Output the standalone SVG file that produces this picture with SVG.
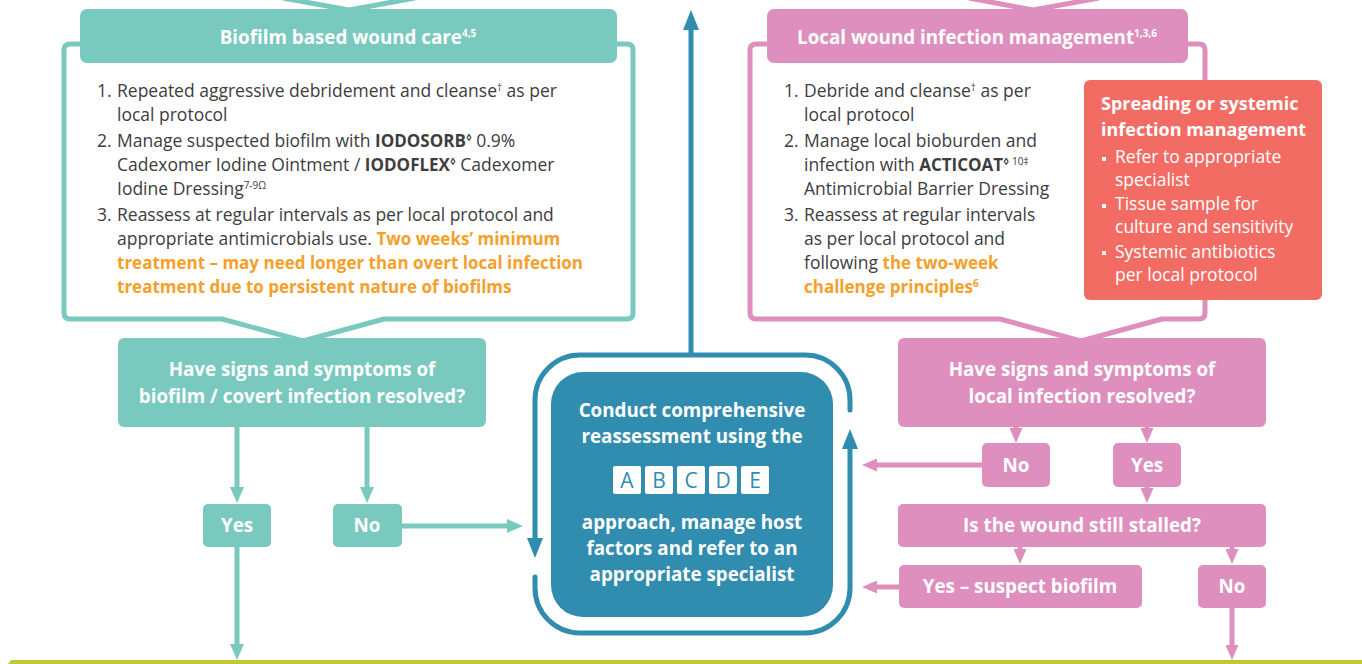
<svg xmlns="http://www.w3.org/2000/svg" width="1362" height="664" viewBox="0 0 1362 664">
<defs>
<style>
text{font-family:"Open Sans","Liberation Sans",sans-serif}
.body{font-size:17.5px;fill:#3d3d3d}
.b{font-weight:bold;font-size:17px}
.or{font-weight:bold;fill:#F5A02A;font-size:17px}
.sup{font-size:10px}
.hd{font-size:18.8px;font-weight:bold;fill:#fff;text-anchor:middle}
.rt{font-size:18px;font-weight:bold;fill:#fff}
.wt{font-size:17.5px;fill:#fff}
.lt{font-size:21px;fill:#318DB0;text-anchor:middle}
.teal{fill:#79C9BF}
.pink{fill:#DE8FBE}
.ol-teal{fill:none;stroke:#79C9BF;stroke-width:5;stroke-linejoin:round}
.ol-pink{fill:none;stroke:#DE8FBE;stroke-width:5;stroke-linejoin:round}
.c-teal{fill:none;stroke:#79C9BF;stroke-width:5}
.c-pink{fill:none;stroke:#DE8FBE;stroke-width:5}
.c-blue{fill:none;stroke:#318DB0;stroke-width:5;stroke-linecap:round}
</style>
<marker id="ah-teal" viewBox="0 0 16 14" refX="0" refY="7" markerWidth="16" markerHeight="14" markerUnits="userSpaceOnUse" orient="auto"><path d="M0,0 L16,7 L0,14 z" fill="#79C9BF"/></marker>
<marker id="ah-pink" viewBox="0 0 15 13" refX="0" refY="6.5" markerWidth="15" markerHeight="13" markerUnits="userSpaceOnUse" orient="auto"><path d="M0,0 L15,6.5 L0,13 z" fill="#DE8FBE"/></marker>
<marker id="ah-blue" viewBox="0 0 20 16" refX="0" refY="8" markerWidth="20" markerHeight="16" markerUnits="userSpaceOnUse" orient="auto"><path d="M0,0 L20,8 L0,16 z" fill="#318DB0"/></marker>
</defs>
<rect width="1362" height="664" fill="#fff"/>

<!-- incoming chevrons from above -->
<polyline class="ol-teal" points="283,-2 349,10 415,-2"/>
<polyline class="ol-pink" points="969,-2 1033,10 1099,-2"/>

<g id="connectors">
<path class="c-teal" d="M237 427 V487" marker-end="url(#ah-teal)"/>
<path class="c-teal" d="M367 427 V487" marker-end="url(#ah-teal)"/>
<path class="c-teal" d="M402 526 H507" marker-end="url(#ah-teal)"/>
<path class="c-teal" d="M237 547 V644" marker-end="url(#ah-teal)"/>
<path class="c-pink" d="M1016 426 V428" marker-end="url(#ah-pink)"/>
<path class="c-pink" d="M1147 426 V428" marker-end="url(#ah-pink)"/>
<path class="c-pink" d="M982 465 H877" marker-end="url(#ah-pink)"/>
<path class="c-pink" d="M1147 487 V488" marker-end="url(#ah-pink)"/>
<path class="c-pink" d="M1020 547 V549" marker-end="url(#ah-pink)"/>
<path class="c-pink" d="M1232 547 V549" marker-end="url(#ah-pink)"/>
<path class="c-pink" d="M899 587 H877" marker-end="url(#ah-pink)"/>
<path class="c-pink" d="M1232 608 V645" marker-end="url(#ah-pink)"/>
<path class="c-blue" style="stroke-linecap:butt" d="M691 356 V30" marker-end="url(#ah-blue)"/>
<path class="c-blue" d="M850 410 V400 A45 45 0 0 0 805 355 H580 A45 45 0 0 0 535 400 V538" marker-end="url(#ah-blue)"/>
<path class="c-blue" d="M535 577 V588 A45 45 0 0 0 580 633 H805 A45 45 0 0 0 850 588 V449" marker-end="url(#ah-blue)"/>
</g>

<g id="biofilm-care">
<path class="ol-teal" d="M70 44 H627 Q633 44 633 50 V313 Q633 319 627 319 H384 L303 341 L222 319 H70 Q64 319 64 313 V50 Q64 44 70 44 Z"/>
<rect class="teal" x="80" y="9" width="537" height="54" rx="7"/>
<text class="hd" x="348" y="44">Biofilm based wound care<tspan class="sup" dy="-7">4,5</tspan></text>
<g class="body">
<text x="97" y="97">1.</text>
<text x="117" y="97">Repeated aggressive debridement and cleanse<tspan class="sup" dy="-6">†</tspan><tspan dy="6"> as per</tspan></text>
<text x="117" y="121">local protocol</text>
<text x="97" y="147">2.</text>
<text x="117" y="147">Manage suspected biofilm with <tspan class="b">IODOSORB</tspan><tspan class="sup b" dy="-6">◊</tspan><tspan dy="6"> 0.9%</tspan></text>
<text x="117" y="171">Cadexomer Iodine Ointment / <tspan class="b">IODOFLEX</tspan><tspan class="sup b" dy="-6">◊</tspan><tspan dy="6"> Cadexomer</tspan></text>
<text x="117" y="195">Iodine Dressing<tspan class="sup" dy="-6">7-9Ω</tspan></text>
<text x="97" y="221">3.</text>
<text x="117" y="221">Reassess at regular intervals as per local protocol and</text>
<text x="117" y="245">appropriate antimicrobials use. <tspan class="or">Two weeks’ minimum</tspan></text>
<text x="117" y="269" class="or">treatment – may need longer than overt local infection</text>
<text x="117" y="293" class="or">treatment due to persistent nature of biofilms</text>
</g>
</g>

<g id="biofilm-question">
<rect class="teal" x="118" y="338" width="368" height="89" rx="6"/>
<text class="hd" x="302" y="376">Have signs and symptoms of</text>
<text class="hd" x="302" y="403">biofilm / covert infection resolved?</text>
</g>
<g id="biofilm-yes">
<rect class="teal" x="203" y="504" width="68" height="43" rx="5"/>
<text class="hd" x="237" y="532">Yes</text>
</g>
<g id="biofilm-no">
<rect class="teal" x="333" y="504" width="69" height="43" rx="5"/>
<text class="hd" x="367" y="532">No</text>
</g>

<g id="reassessment">
<rect x="551" y="372" width="282" height="245" rx="32" fill="#318DB0"/>
<text class="hd" x="692" y="417">Conduct comprehensive</text>
<text class="hd" x="692" y="443">reassessment using the</text>
<g fill="#fff">
<rect x="613" y="466" width="28" height="28" rx="2"/>
<rect x="645" y="466" width="28" height="28" rx="2"/>
<rect x="677" y="466" width="28" height="28" rx="2"/>
<rect x="709" y="466" width="28" height="28" rx="2"/>
<rect x="741" y="466" width="28" height="28" rx="2"/>
</g>
<text class="lt" x="627" y="488">A</text>
<text class="lt" x="659" y="488">B</text>
<text class="lt" x="691" y="488">C</text>
<text class="lt" x="723" y="488">D</text>
<text class="lt" x="755" y="488">E</text>
<text class="hd" x="692" y="529">approach, manage host</text>
<text class="hd" x="692" y="555">factors and refer to an</text>
<text class="hd" x="692" y="581">appropriate specialist</text>
</g>

<g id="local-infection">
<path class="ol-pink" d="M756 44 H1199 Q1205 44 1205 50 V313 Q1205 319 1199 319 H1162 L1081 341 L1000 319 H756 Q750 319 750 313 V50 Q750 44 756 44 Z"/>
<rect class="pink" x="767" y="9" width="421" height="54" rx="7"/>
<text class="hd" x="977" y="44">Local wound infection management<tspan class="sup" dy="-7">1,3,6</tspan></text>
<g class="body">
<text x="784" y="97">1.</text>
<text x="804" y="97">Debride and cleanse<tspan class="sup" dy="-6">†</tspan><tspan dy="6"> as per</tspan></text>
<text x="804" y="121">local protocol</text>
<text x="784" y="147">2.</text>
<text x="804" y="147">Manage local bioburden and</text>
<text x="804" y="171">infection with <tspan class="b">ACTICOAT</tspan><tspan class="sup b" dy="-6">◊</tspan><tspan class="sup" dx="3">10‡</tspan></text>
<text x="804" y="195">Antimicrobial Barrier Dressing</text>
<text x="784" y="221">3.</text>
<text x="804" y="221">Reassess at regular intervals</text>
<text x="804" y="245">as per local protocol and</text>
<text x="804" y="269">following <tspan class="or">the two-week</tspan></text>
<text x="804" y="293" class="or">challenge principles<tspan class="sup" dy="-6">6</tspan></text>
</g>
</g>

<g id="spreading">
<rect x="1084" y="80" width="238" height="220" rx="6" fill="#F26C64"/>
<text class="rt" x="1101" y="110">Spreading or systemic</text>
<text class="rt" x="1101" y="136">infection management</text>
<g fill="#fff">
<rect x="1102" y="157" width="4" height="4"/>
<rect x="1102" y="204" width="4" height="4"/>
<rect x="1102" y="251" width="4" height="4"/>
</g>
<text class="wt" x="1115" y="163">Refer to appropriate</text>
<text class="wt" x="1115" y="186">specialist</text>
<text class="wt" x="1115" y="210">Tissue sample for</text>
<text class="wt" x="1115" y="233">culture and sensitivity</text>
<text class="wt" x="1115" y="258">Systemic antibiotics</text>
<text class="wt" x="1115" y="281">per local protocol</text>
</g>

<g id="local-question">
<rect class="pink" x="898" y="338" width="368" height="89" rx="6"/>
<text class="hd" x="1082" y="376">Have signs and symptoms of</text>
<text class="hd" x="1082" y="403">local infection resolved?</text>
</g>
<g id="local-no">
<rect class="pink" x="982" y="443" width="68" height="44" rx="5"/>
<text class="hd" x="1016" y="472">No</text>
</g>
<g id="local-yes">
<rect class="pink" x="1113" y="443" width="68" height="44" rx="5"/>
<text class="hd" x="1147" y="472">Yes</text>
</g>
<g id="stalled">
<rect class="pink" x="898" y="504" width="368" height="43" rx="5"/>
<text class="hd" x="1082" y="532">Is the wound still stalled?</text>
</g>
<g id="suspect-biofilm">
<rect class="pink" x="899" y="565" width="243" height="43" rx="5"/>
<text class="hd" x="1020" y="593">Yes – suspect biofilm</text>
</g>
<g id="stalled-no">
<rect class="pink" x="1198" y="565" width="68" height="43" rx="5"/>
<text class="hd" x="1232" y="593">No</text>
</g>

<polygon points="8,664 11,660 1362,660 1362,664" fill="#C2C833"/>
</svg>
